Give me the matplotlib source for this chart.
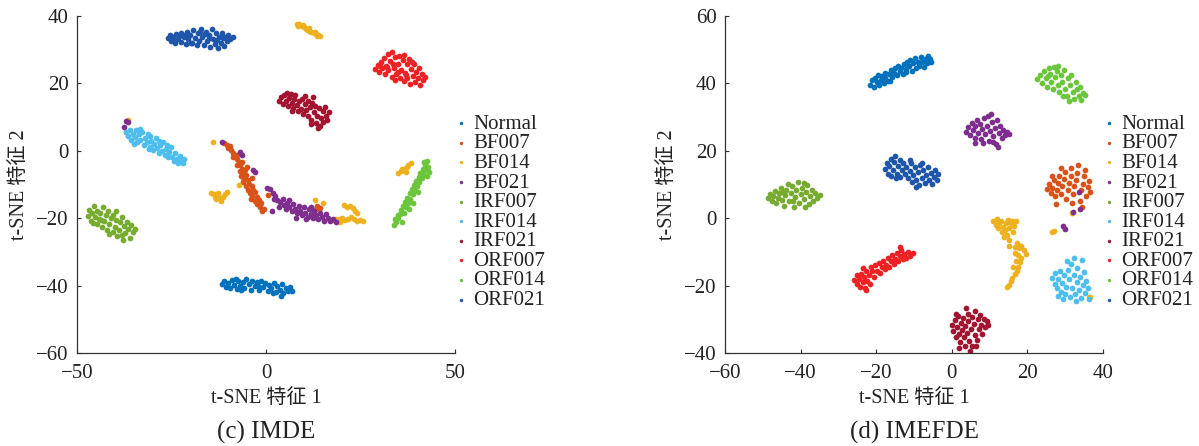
import matplotlib
matplotlib.use("Agg")
import matplotlib.pyplot as plt
import numpy as np

# ---- class names / colours -------------------------------------------
labels = ["Normal", "BF007", "BF014", "BF021", "IRF007",
          "IRF014", "IRF021", "ORF007", "ORF014", "ORF021"]
colors = ["#0072BD", "#D95319", "#EDB120", "#7E2F8E", "#77AC30",
          "#4DBEEE", "#A2142F", "#EE2224", "#6CC63C", "#1F56AA"]

# ---- (c) IMDE : t-SNE points -------------------------------------------
c_normal = [(-11.6,-39.6),(-11,-38.8),(-10.6,-40.4),(-10,-39.2),(-9.4,-40.6),(-9,-38.4),(-8.4,-39.8),(-7.8,-41),
            (-7.4,-38.6),(-6.8,-40),(-6.2,-39),(-5.8,-40.8),(-5.2,-38.2),(-4.6,-39.6),(-4,-41.2),(-3.6,-38.6),
            (-3,-40.2),(-2.4,-39),(-1.8,-41.4),(-1.4,-38.8),(-0.8,-40.4),(-0.2,-39.2),(0.4,-41.6),(0.8,-39.8),
            (1.4,-40.8),(2,-39.2),(2.6,-42),(3,-40.2),(3.6,-41.2),(4.2,-39.6),(4.6,-42.2),(5.2,-40.6),(5.8,-41.6),
            (6.4,-40.4),(6.8,-41.6),(-8,-38.2),(-2,-40),(1.8,-42.2),(4,-43),(-6.6,-41.4)]
c_bf007 = [(-11,2.2),(-10.4,1.6),(-10,0.8),(-9.6,1.4),(-9.2,0.2),(-8.8,-0.6),(-8.4,-1.4),(-8.8,-2),(-7.8,-1.2),
           (-7.6,-2.6),(-7.2,-3.4),(-7.8,-4.2),(-6.8,-4.4),(-6.4,-5.4),(-7,-6),(-6,-6.6),(-5.6,-5.8),(-6.6,-7.4),
           (-5.2,-7.2),(-5.8,-8.4),(-4.8,-8.6),(-6.2,-9.2),(-4.4,-9.8),(-5.4,-10.4),(-3.8,-10.6),(-4.8,-11.6),
           (-3.4,-11.8),(-4.2,-12.6),(-2.8,-12.4),(-3.6,-13.6),(-2.4,-13.8),(-3,-14.8),(-1.8,-14.6),(-2.4,-15.8),
           (-1.2,-15.6),(-1.6,-16.8),(-0.6,-17.2),(-1,-18),(-5,-5),(-3.8,-8),(-6.4,-3.4),(-4,-14.2),(0.6,-13.2),
           (13.6,-16.4),(14.2,-17),(13.2,-17.2)]
c_bf014 = [(8.2,37.6),(8.8,37.4),(9.4,37),(10,36.6),(10.5,36),(11,35.8),(11.5,35.5),(12,35.2),(12.6,34.9),
           (13.2,34.6),(13.8,34.3),(14.2,34),(8.5,36.9),(9.8,37.2),(11.3,36.3),(12.9,35.3),(13.5,34),
           (34.8,-6.5),(35.8,-6.0),(36.6,-5.3),(37.2,-5.0),(37.6,-4.4),(38.3,-3.6),(37.0,-6.3),(36.0,-5.5),
           (-14.6,-12.6),(-13.8,-13),(-13.2,-14.2),(-12.6,-13.4),(-12,-15),(-11.4,-13.8),(-10.8,-12.8),
           (-10.2,-12.4),(-12.8,-12.6),(-11.8,-14.4),(-13.6,-13.8),
           (20.6,-16.2),(21.4,-16.6),(22.2,-16.4),(23,-17),(23.6,-17.8),(24.2,-18.4),(17.6,-20.6),(18.4,-20.2),
           (19.2,-20.4),(20,-20),(20.8,-20.6),(21.6,-20.2),(22.4,-19.8),(23.2,-20.4),(24,-20.8),(24.8,-20.6),
           (25.6,-21),(19.6,-21.2),
           (-13.9,2.7),(-36.6,9.1),(-37,5.5),(-7.1,-10.2),(13,-14.7),(15.2,-15.6)]
c_bf021 = [(1,-11.4),(1.8,-12.6),(2.4,-13.4),(3,-14.6),(2.2,-14.2),(3.8,-15.2),(4.4,-14.4),(4.8,-16.2),(5.6,-15.4),
           (5.4,-17.2),(6.2,-16.6),(6.8,-18),(7.2,-15.8),(7.6,-17.2),(8.2,-18.6),(8.6,-16.4),(9,-17.8),(9.6,-19),
           (10,-16.8),(10.4,-18.4),(11,-19.6),(11.4,-17.4),(11.8,-18.8),(12.4,-20),(12.8,-17.8),(13.2,-19.2),
           (13.8,-20.4),(14.4,-18.6),(14.8,-19.8),(15.4,-20.8),(15.8,-18.8),(16.4,-20),(17,-21),(17.6,-20.4),
           (18.4,-21.2),(3.4,-16.8),(6,-14.6),(8,-20),(12,-16.8),(10.6,-20.4),
           (-11.7,2.6),(-6.9,-0.3),(-6.3,-1.2),(-3.4,-5.8),(-2.8,-6.4),(0.3,-11.2),(1.5,-17.9),
           (-36.4,8.6),(-37.6,7.1),(-36.9,8.9)]
c_irf007 = [(-47.2,-19.4),(-46.8,-17.6),(-46.4,-20.8),(-46,-18.6),(-45.6,-16.4),(-45.2,-19.8),(-44.8,-21.8),
            (-44.6,-17.8),(-44.2,-20.2),(-43.8,-18.6),(-43.4,-22.6),(-43.2,-16.8),(-42.8,-21),(-42.4,-19.2),
            (-42,-23.4),(-41.8,-18),(-41.4,-21.8),(-41,-20),(-40.6,-24.2),(-40.4,-19),(-40,-22.6),(-39.6,-20.6),
            (-39.4,-25.4),(-39,-23.4),(-38.6,-21.2),(-38.2,-25),(-38,-19.8),(-37.6,-22.4),(-37.2,-24.4),
            (-36.8,-21.2),(-36.4,-23.2),(-36,-25.8),(-35.6,-22),(-35.2,-24.2),(-34.6,-23.2),(-45.8,-21.6),
            (-43.6,-20.6),(-41.6,-24.6),(-37.8,-26.4),(-39.8,-17.8)]
c_irf014 = [(-37,5.6),(-36.4,4.4),(-36,6.2),(-35.6,3.2),(-35.2,5),(-34.6,4),(-34.4,6),(-34,2.6),(-33.6,4.8),
            (-33.2,3.2),(-32.8,5.4),(-32.4,1.8),(-32,3.8),(-31.6,2.6),(-31.2,4.8),(-30.8,1.2),(-30.4,3),(-30,0.2),
            (-29.6,2),(-29.2,3.8),(-28.8,0.8),(-28.4,-0.6),(-28,1.8),(-27.6,0),(-27.2,2.6),(-26.8,-1.2),
            (-26.4,0.6),(-26,-2),(-25.6,-0.4),(-25.2,1.2),(-24.8,-1.8),(-24.4,-3),(-24,-0.8),(-23.6,-2.4),
            (-23.2,-3.8),(-22.8,-1.6),(-22.4,-3),(-22,-3.8),(-21.8,-2.6),(-34.8,2),(-31,0.4),(-28.2,3),
            (-26.2,1.6),(-30.6,4.2),(-33.4,6.4)]
c_irf021 = [(3.4,14.6),(4,15.8),(4.4,13.8),(4.8,16.4),(5.2,14.6),(5.6,17.2),(5.8,13.2),(6.2,15.6),(6.6,16.8),
            (6.8,14),(7.2,12.6),(7.4,15.2),(7.8,16.4),(8.2,13.4),(8.4,11.8),(8.8,14.8),(9.2,12.4),(9.6,15.4),
            (9.8,10.8),(10.2,13.8),(10.6,12),(11,14.8),(11.2,10.2),(11.6,12.8),(12,9),(12.2,14.2),(12.6,11.4),
            (13,13.2),(13.2,8.2),(13.6,10.4),(14,12.6),(14.2,7.2),(14.6,9.6),(15,11.6),(15.2,8.4),(15.6,13),
            (15.8,10.4),(16.2,9),(16.6,11.4),(13.8,6.6),(11.8,7.8),(7,11.6),(10.4,16.2),(12.4,15.8)]
c_orf007 = [(28.8,24.2),(29.5,25.4),(29.8,23.2),(30.4,26.4),(30.6,24.4),(31.2,27.6),(31.4,22.6),(31.8,25.2),
            (32.2,28.6),(32.4,23.8),(32.8,26.6),(33.2,29.2),(33.4,21.8),(33.8,24.6),(34.2,27.8),(34.4,22.8),
            (34.8,25.8),(35.2,28.2),(35.4,21.4),(35.8,24),(36.2,26.8),(36.4,20.6),(36.8,23),(37.2,25.6),
            (37.4,21.6),(37.8,27.2),(38.2,19.8),(38.4,24.2),(38.8,22.2),(39.2,25.6),(39.4,20.4),(39.8,23.4),
            (40.2,21.4),(40.6,24.4),(40.8,19.6),(41.2,22.6),(41.6,20.8),(42,21.8),(32,24.8),(35,23.2),
            (37,22.4),(33.6,25.8),(36.6,28.4),(30.2,25.2),(34,20.8),(38.6,26.2)]
c_orf014 = [(33.8,-22),(34.4,-21.2),(34.2,-20.4),(35,-20),(35.4,-18.8),(34.8,-19.2),(35.8,-17.6),(36.4,-18.4),
            (36.2,-16.4),(37,-16.8),(36.8,-15.2),(37.6,-15.4),(37.4,-14),(38.2,-14.2),(38,-12.6),(38.8,-13),
            (38.6,-11.4),(39.4,-11.8),(39.2,-10.2),(40,-10.6),(39.8,-9),(40.6,-9.4),(40.4,-7.8),(41.2,-8.2),
            (40.8,-6.6),(41.6,-7),(41.4,-5.4),(42.2,-5.8),(42,-4.4),(42.6,-7.4),(42.8,-5),(41.8,-3.4),
            (42.6,-3.2),(40.2,-12.4),(37.8,-17.2),(36,-21.2),(39,-15.4),(43,-6.2)]
c_orf021 = [(-26,33.5),(-25.5,34.3),(-25,32.6),(-24.6,33.8),(-24,32),(-23.8,34.6),(-23.2,33.2),(-22.6,35),
            (-22.4,32.3),(-21.8,33.8),(-21.2,31.6),(-21,35.3),(-20.5,33),(-20,34.4),(-19.6,32),(-19.2,35.8),
            (-18.8,33.4),(-18.3,31.4),(-18,34.8),(-17.6,32.6),(-17.2,36.2),(-16.8,33.8),(-16.4,31.2),(-16,35.2),
            (-15.6,32.4),(-15.2,34.2),(-14.8,30.8),(-14.4,36),(-14,33),(-13.6,31.6),(-13.2,34.8),(-12.8,30.4),
            (-12.4,33.6),(-12,32),(-11.6,35),(-11.2,31),(-10.8,33.8),(-10.4,32.4),(-10,34.2),(-9.4,33.2),
            (-8.8,33.6),(-22.9,33.9),(-19.9,31.8),(-17.5,35.2),(-15,33.5),(-13,32.8),(-11.5,33.4),(-24.5,33),
            (-21.5,34.2),(-16.2,34.5)]

# ---- (d) IMEFDE ---------------------------------------------------------
d_normal = [(-21.6,39.6),(-21,40.8),(-20.6,39),(-20.2,41.6),(-19.8,40.2),(-19.2,39.4),(-18.8,41),(-18.4,42.2),
            (-18,40),(-17.6,41.4),(-17,40.6),(-16.6,42.6),(-16.2,43.8),(-15.8,41.8),(-15.4,43),(-15,44.4),
            (-14.6,42.4),(-14.2,45),(-13.8,43.6),(-13.4,44.6),(-13,42.6),(-12.6,45.6),(-12.2,44.2),(-11.8,46.4),
            (-11.4,45),(-11,47),(-10.6,43.6),(-10.2,46),(-9.8,47.4),(-9.4,44.6),(-9,46.4),(-8.6,45.2),(-8.2,47.8),
            (-7.8,46.4),(-7.4,44.8),(-7,47.2),(-6.6,46),(-6.2,48.2),(-5.8,47.2),(-5.4,46.4),(-12,43.2),
            (-16.4,40.6),(-17.8,43),(-19.6,42.4)]
d_bf007 = [(25.2,8.6),(25.8,10),(26.2,7.4),(26.6,9),(27,11.2),(27.4,6.6),(27.8,8.4),(28.2,10.4),(28.4,12.6),
           (28.8,7.2),(29.2,9.4),(29.6,11.6),(30,13.6),(30.2,5.8),(30.6,8.2),(31,10.4),(31.4,12.4),(31.6,14.8),
           (32,7),(32.4,9.4),(32.8,11.4),(33.2,13.4),(33.4,15.6),(33.8,5.2),(34.2,8.2),(34.6,10.2),(35,12.4),
           (35.2,14.2),(35.6,6.6),(36,9.2),(36.4,11),(36.6,7.6),(29,14.8),(31.8,4.4),(34.4,3.2),(27.6,4.2),
           (26.4,12.4)]
d_bf014 = [(11,-0.8),(11.6,-2),(12,-0.4),(12.4,-1.6),(12.2,-3),(13,-1),(13.4,-2.6),(13.2,-4.2),(14,-3.6),
           (14.2,-1.6),(14.8,-0.6),(15,-2.8),(15.6,-1.4),(16,-0.8),(16.4,-2.2),(17,-1),(13.8,-5.6),(14.6,-5),
           (15.2,-6.6),(16.2,-4.2),(15,-8.2),(16.6,-8.6),(17.2,-7.4),(17.8,-9),(18.4,-8.2),(19,-9.6),
           (16.8,-10.4),(17.6,-11),(18.4,-11.8),(19.6,-10.6),(18,-13),(17.6,-14.4),(17.2,-15.8),(16.6,-16.6),
           (16,-17.8),(15.6,-18.6),(15,-19.8),(14.6,-20.4),(16.2,-14.6),(17,-12.8),
           (26.9,-3.7),(26.6,-4.2),(31.7,1.4),(36.6,-23.5),(36.2,-23.4)]
d_bf021 = [(3.8,25.4),(4.4,27),(4.8,24.6),(5.2,28.2),(5.6,26),(6,23.8),(6.2,27.4),(6.6,29.2),(7,25.2),
           (7.4,27.8),(7.8,23.4),(8,26.4),(8.4,29.6),(8.8,24.8),(9.2,27.4),(9.6,30.2),(9.8,23),(10.2,25.8),
           (10.6,28.4),(11,24.4),(11.4,26.8),(11.8,22),(12,29),(12.4,25.2),(12.8,27.4),(13.2,23.6),(13.6,26),
           (14,24.6),(14.6,25.6),(15.2,25),(12.2,21.2),(11,22.6),(6,22.4),(8.2,22.2),(10.4,31),
           (33.7,7.6),(33.9,2.6),(32,1.9),(29.3,-2.3),(29.8,-3.3)]
d_irf007 = [(-48.6,6),(-48,7.2),(-47.6,5),(-47.2,6.6),(-46.8,8),(-46.4,4.6),(-46,6),(-45.6,7.4),(-45.2,9),
            (-44.8,5.4),(-44.4,3.6),(-44.2,6.8),(-43.8,8.4),(-43.4,10.2),(-43,5),(-42.6,7.4),(-42.2,9.4),
            (-41.8,3.2),(-41.6,6.2),(-41.2,8.2),(-40.8,10.6),(-40.4,4.6),(-40,7),(-39.6,9),(-39.2,5.6),
            (-38.8,3.2),(-38.6,7.6),(-38.2,9.8),(-37.8,4.2),(-37.4,6.4),(-37,8.4),(-36.6,5.2),(-36.2,7.4),
            (-35.6,6),(-35,6.8),(-42,5.2),(-45,7.6),(-39,10.4)]
d_irf014 = [(26.6,-17.8),(27.2,-19.4),(27.4,-16.4),(27.8,-20.6),(28.2,-18),(28.6,-15.6),(28.8,-21.8),
            (29.2,-19.2),(29.6,-17),(30,-22.6),(30.2,-20.4),(30.6,-15.4),(31,-18.2),(31.2,-23.4),(31.6,-13.6),
            (31.8,-20.6),(32.2,-16.8),(32.4,-11.8),(32.6,-22.4),(33,-19),(33.2,-14.8),(33.6,-21.2),(33.8,-17.4),
            (34.2,-23.8),(34.4,-12.4),(34.6,-19.8),(35,-16),(35.2,-22.2),(35.6,-18.6),(36,-20.6),(36.4,-24),
            (32.8,-24.6),(29.4,-24),(30.4,-12.6),(28,-23)]
d_irf021 = [(0,-31.6),(0.4,-33.6),(0.8,-30.2),(1,-35.2),(1.4,-32.2),(1.6,-29),(1.8,-34.4),(2.2,-36.6),
            (2.4,-31),(2.6,-33.2),(3,-29.6),(3.2,-35.4),(3.4,-37.8),(3.6,-32),(4,-34),(4.2,-28.4),(4.4,-30.6),
            (4.6,-36.4),(4.8,-39.4),(5,-32.8),(5.2,-38),(5.4,-29.4),(5.8,-31.4),(6,-34.8),(6.2,-27.6),
            (6.6,-36.2),(6.8,-30),(7.2,-33),(7.4,-28.6),(7.8,-31.6),(8,-34.4),(8.4,-29.8),(8.8,-32.2),
            (9.2,-30.6),(9.6,-31.8),(2,-38.4),(1.2,-28.4),(3.8,-26.8),(6.4,-37.8)]
d_orf007 = [(-25.8,-18.4),(-25.2,-17),(-25,-19.6),(-24.6,-18),(-24.2,-20.4),(-24,-16.6),(-23.6,-19),
            (-23.2,-17.6),(-23,-20.8),(-22.6,-15.6),(-22.4,-18.6),(-22,-16.8),(-21.6,-19.6),(-21.4,-14.6),
            (-21,-15.8),(-20.6,-17.4),(-20.2,-14),(-19.8,-15.6),(-19.4,-13.2),(-19,-16.4),(-18.6,-14.4),
            (-18.2,-12.6),(-17.8,-15.2),(-17.4,-13.8),(-17,-11.8),(-16.6,-14.6),(-16.2,-12.8),(-15.8,-11),
            (-15.4,-13.6),(-15,-12),(-14.6,-10.4),(-14.2,-12.6),(-13.8,-11.2),(-13.4,-9.4),(-13,-12),
            (-12.6,-10.6),(-12.2,-11.8),(-11.6,-10.2),(-11,-11.2),(-10.4,-10.4),(-13.8,-8.6),(-23.4,-14.8),
            (-22.8,-21.4)]
d_orf014 = [(22.4,41.2),(23.4,42.4),(23.8,40),(24.4,43.6),(24.8,41.4),(25.2,38.8),(25.6,44.4),(26,42.6),
            (26.2,40.2),(26.8,38.2),(27,44.8),(27.4,41.8),(27.8,43.6),(28,39.4),(28.4,37.4),(28.8,42.4),
            (29.2,40.4),(29.6,44),(30,38.4),(30.4,36.2),(30.8,41.4),(31.2,39.6),(31.6,42.4),(32,37.4),
            (32.4,35.2),(32.8,40.2),(33.2,38.4),(33.6,36.2),(34,38.8),(34.6,37.2),(35.2,36.4),(34.2,35),
            (31,34.8),(29.4,36.2),(25.4,42),(28,45.2)]
d_orf021 = [(-17.6,14.6),(-17.2,16.4),(-17,13.2),(-16.6,15.4),(-16.2,17.6),(-16,12.4),(-15.6,14.2),
            (-15.2,16.6),(-15,18.4),(-14.6,13.2),(-14.2,15.4),(-13.8,17.2),(-13.6,12.2),(-13.2,14.4),
            (-12.8,16.4),(-12.4,13),(-12,15.2),(-11.6,11.8),(-11.2,14),(-10.8,16.4),(-10.6,10.6),(-10.2,12.8),
            (-9.8,15),(-9.4,11.4),(-9,13.6),(-8.6,9.8),(-8.4,15.8),(-8,12),(-7.6,14.2),(-7.2,10.4),(-6.8,12.8),
            (-6.4,15),(-6,11.2),(-5.6,13.4),(-5.2,10),(-4.8,12.2),(-4.4,14.2),(-4,11.4),(-3.6,13),(-9.6,9.2),
            (-14.8,11.8),(-11,17.2),(-7.8,16.2)]

panel_c = [c_normal, c_bf007, c_bf014, c_bf021, c_irf007, c_irf014, c_irf021, c_orf007, c_orf014, c_orf021]
panel_d = [d_normal, d_bf007, d_bf014, d_bf021, d_irf007, d_irf014, d_irf021, d_orf007, d_orf014, d_orf021]

SERIF = ["Liberation Serif", "Noto Sans CJK SC", "DejaVu Sans"]
TXT = "#222222"
plt.rcParams["font.family"] = SERIF
plt.rcParams["axes.unicode_minus"] = True

fig = plt.figure(figsize=(11.99, 4.46), dpi=100)
ax_c = fig.add_axes([0.0642, 0.2085, 0.3153, 0.7563])
ax_d = fig.add_axes([0.6047, 0.2085, 0.3153, 0.7563])


def draw_panel(ax, groups, xlim, ylim, xticks, yticks, caption):
    for pts, lab, col in zip(groups, labels, colors):
        arr = np.array(pts)
        ax.scatter(arr[:, 0], arr[:, 1], s=17, color=col, linewidths=0, label=lab)
    ax.set_xlim(xlim)
    ax.set_ylim(ylim)
    ax.set_xticks(xticks)
    ax.set_yticks(yticks)
    for side in ("top", "right"):
        ax.spines[side].set_visible(False)
    for side in ("left", "bottom"):
        ax.spines[side].set_color("#333333")
        ax.spines[side].set_linewidth(0.9)
    ax.tick_params(direction="in", length=3, width=0.8, colors="#333333",
                   labelsize=15, labelcolor=TXT)
    ax.tick_params(axis="x", pad=8)
    ax.tick_params(axis="y", pad=6)
    ax.text(0.5, -0.135, "t-SNE 特征 1", transform=ax.transAxes, ha="center",
            va="center", fontsize=14.5, color=TXT)
    ax.text(-0.151, 0.5, "t-SNE 特征 2", transform=ax.transAxes, ha="center",
            va="center", rotation=90, fontsize=14.5, color=TXT)
    ax.text(0.5, -0.235, caption, transform=ax.transAxes, ha="center",
            va="center", fontsize=18, color=TXT)
    leg = ax.legend(loc="upper left", bbox_to_anchor=(0.99, 0.708), frameon=False,
                    fontsize=15, markerscale=0.6, handletextpad=0.15,
                    labelspacing=0.0, borderpad=0, borderaxespad=0,
                    handlelength=0.9, scatterpoints=1)
    for t in leg.get_texts():
        t.set_color(TXT)


draw_panel(ax_c, panel_c, (-50, 50), (-60, 40), [-50, 0, 50],
           [-60, -40, -20, 0, 20, 40], "(c) IMDE")
draw_panel(ax_d, panel_d, (-60, 40), (-40, 60), [-60, -40, -20, 0, 20, 40],
           [-40, -20, 0, 20, 40, 60], "(d) IMEFDE")

fig.savefig("out.png", dpi=100)
